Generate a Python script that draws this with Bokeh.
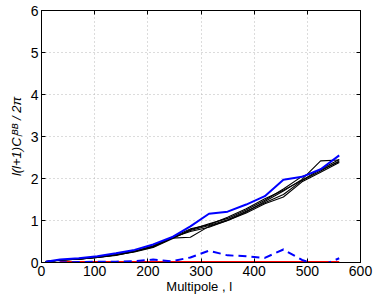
from bokeh.plotting import figure
from bokeh.models import LinearAxis, Range1d, FixedTicker, CustomLabelingPolicy
from bokeh.embed import file_html
from bokeh.resources import INLINE

ell = [8, 35, 70, 105, 140, 175, 210, 245, 280, 315, 350, 385, 420, 455, 490, 525, 560]
blue_solid = [0.02, 0.07, 0.10, 0.15, 0.22, 0.30, 0.43, 0.60, 0.86, 1.16, 1.21, 1.38, 1.58, 1.97, 2.04, 2.22, 2.55]
black_runs = [
    [0.02, 0.06, 0.08, 0.12, 0.18, 0.26, 0.37, 0.58, 0.76, 0.88, 1.02, 1.22, 1.42, 1.62, 1.95, 2.18, 2.42],
    [0.02, 0.06, 0.08, 0.13, 0.19, 0.27, 0.38, 0.58, 0.60, 0.86, 1.00, 1.20, 1.45, 1.70, 1.98, 2.42, 2.44],
    [0.02, 0.05, 0.09, 0.12, 0.18, 0.25, 0.36, 0.56, 0.78, 0.92, 1.05, 1.25, 1.48, 1.75, 2.05, 2.20, 2.40],
    [0.01, 0.06, 0.08, 0.12, 0.17, 0.26, 0.39, 0.59, 0.74, 0.84, 1.00, 1.18, 1.40, 1.56, 1.92, 2.15, 2.38],
    [0.02, 0.06, 0.08, 0.13, 0.19, 0.27, 0.40, 0.60, 0.80, 0.90, 1.08, 1.28, 1.52, 1.72, 1.96, 2.22, 2.45],
]
blue_dashed = [0.0, 0.0, 0.01, 0.02, 0.02, 0.03, 0.07, 0.03, 0.12, 0.28, 0.17, 0.15, 0.11, 0.31, 0.06, -0.08, 0.10]
red_ell = [35, 70, 105, 140, 175, 210, 245, 280, 315, 350, 385, 420, 455, 490, 525, 560]
red_vals = [0.01, 0.01, 0.01, 0.01, 0.01, 0.01, 0.01, 0.01, 0.01, 0.01, 0.01, 0.01, 0.01, 0.01, 0.01, 0.01]

x_ticks = [0, 100, 200, 300, 400, 500, 600]
y_ticks = [0, 1, 2, 3, 4, 5, 6]

FONT = "Liberation Sans"

p = figure(frame_width=319, frame_height=252, output_backend="svg", toolbar_location=None,
           x_range=Range1d(0, 600), y_range=Range1d(0, 6),
           min_border_left=41, min_border_right=14, min_border_top=10, min_border_bottom=33)
p.background_fill_color = "white"
p.border_fill_color = "white"
p.outline_line_color = "black"
p.outline_line_width = 1

for ax, ticks in ((p.xaxis[0], x_ticks), (p.yaxis[0], y_ticks)):
    ax.ticker = FixedTicker(ticks=ticks)
    ax.major_tick_in = 4
    ax.major_tick_out = 0
    ax.minor_tick_in = 0
    ax.minor_tick_out = 0
    ax.major_label_text_font = FONT
    ax.major_label_text_font_size = "14px"
    ax.major_label_text_color = "black"
    ax.axis_label_text_font = FONT
    ax.axis_label_text_font_size = "13px"
    ax.axis_label_text_font_style = "normal"
    ax.axis_label_text_color = "black"
    ax.axis_line_color = "black"
    ax.major_tick_line_color = "black"

p.xaxis.major_label_standoff = 3
p.yaxis.major_label_standoff = 3
p.xaxis.axis_label = "Multipole ,  l"
p.xaxis.axis_label_standoff = 0
p.yaxis.axis_label = "l(l+1)Cₗᴮᴮ / 2π"
p.yaxis.axis_label_standoff = 4
p.yaxis.axis_label_text_font_style = "italic"

no_labels = CustomLabelingPolicy(code="return new Set()")
for side in ("right", "above"):
    ax = LinearAxis(ticker=FixedTicker(ticks=y_ticks if side == "right" else x_ticks),
                    major_label_policy=no_labels, major_label_standoff=0,
                    major_label_text_font_size="1px",
                    major_tick_in=4, major_tick_out=0, minor_tick_in=0, minor_tick_out=0,
                    axis_line_color="black", major_tick_line_color="black")
    p.add_layout(ax, side)

p.xgrid.ticker = FixedTicker(ticks=x_ticks)
p.ygrid.ticker = FixedTicker(ticks=y_ticks)
p.grid.grid_line_color = "#b8b8b8"
p.grid.grid_line_dash = "1 3"
p.grid.grid_line_width = 1

for run in black_runs:
    p.line(ell, run, line_color="black", line_width=1.1)
p.line(red_ell, red_vals, line_color="#ff0000", line_width=2)
p.line(ell, blue_dashed, line_color="#0000ff", line_width=2, line_dash="8 5")
p.line(ell, blue_solid, line_color="#0000ff", line_width=2)

open("out.html", "w").write(file_html(p, INLINE))
